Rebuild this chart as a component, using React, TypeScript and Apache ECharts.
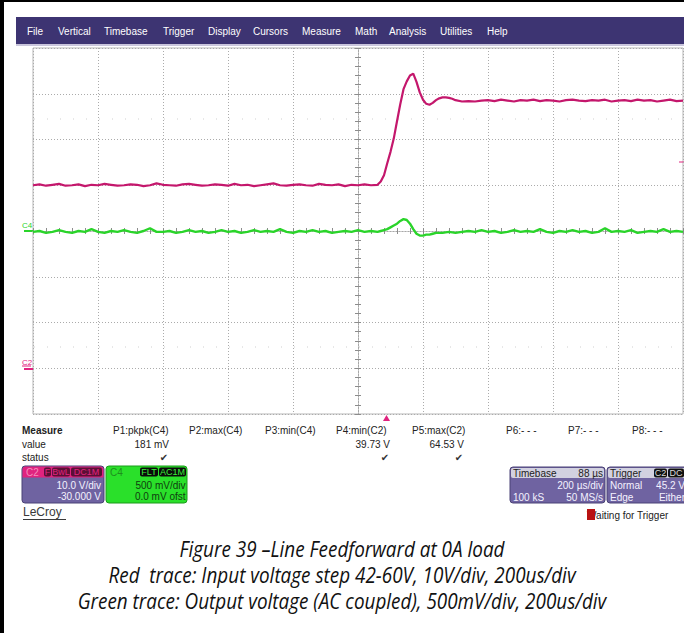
import React, { useEffect, useRef } from "react";
import * as echarts from "echarts";

// Time is in microseconds relative to the screen centre (200 us/div, 10 divisions).
// C2: input voltage, volts (10 V/div, offset -30 V).
const inputTrace: [number, number][] = [
  [-1000, 40.0], [-980, 40.2], [-960, 39.9], [-940, 40.1], [-920, 40.3], [-900, 39.9], [-880, 40.0], [-860, 40.2],
  [-840, 39.8], [-820, 40.1], [-800, 40.0], [-780, 40.3], [-760, 40.1], [-740, 39.9], [-720, 40.0], [-700, 40.2],
  [-680, 40.1], [-660, 39.8], [-640, 40.0], [-620, 40.4], [-600, 40.1], [-580, 40.0], [-560, 39.9], [-540, 40.2],
  [-520, 40.3], [-500, 40.1], [-480, 39.9], [-460, 40.0], [-440, 40.2], [-420, 40.1], [-400, 39.9], [-380, 40.3],
  [-360, 40.0], [-340, 40.1], [-320, 39.8], [-300, 40.0], [-280, 40.2], [-260, 40.4], [-240, 40.0], [-220, 39.9],
  [-200, 40.1], [-180, 40.2], [-160, 40.0], [-140, 39.9], [-120, 40.3], [-100, 40.1], [-80, 40.0], [-60, 40.2],
  [-40, 39.8], [-20, 40.1], [0, 40.0], [20, 40.2], [40, 40.0], [60, 40.1],
  [70, 40.8], [80, 42.2], [90, 44.8], [100, 47.3], [110, 50.2], [120, 54.0], [130, 57.7], [140, 61.0],
  [150, 62.7], [160, 64.0], [170, 64.4], [180, 62.6], [190, 60.3], [200, 58.7], [210, 57.8], [220, 57.6],
  [230, 58.0], [240, 58.6], [250, 59.0], [260, 59.2], [270, 59.2], [280, 59.1], [290, 58.9], [300, 58.6],
  [320, 58.3], [340, 58.4], [360, 58.3], [380, 58.5],
  [400, 58.6], [420, 58.4], [440, 58.7], [460, 58.5], [480, 58.3], [500, 58.6], [520, 58.5], [540, 58.7],
  [560, 58.4], [580, 58.6], [600, 58.5], [620, 58.3], [640, 58.6], [660, 58.7], [680, 58.5], [700, 58.4],
  [720, 58.6], [740, 58.5], [760, 58.7], [780, 58.3], [800, 58.5], [820, 58.6], [840, 58.4], [860, 58.7],
  [880, 58.5], [900, 58.6], [920, 58.3], [940, 58.5], [960, 58.7], [980, 58.4], [1000, 58.5],
];

// C4: output voltage, AC coupled, volts (500 mV/div).
const outputTrace: [number, number][] = [
  [-1000, -0.01], [-980, 0.0], [-960, -0.02], [-940, -0.01], [-920, 0.01], [-900, -0.01], [-880, -0.02], [-860, 0.0],
  [-840, -0.01], [-820, 0.02], [-800, -0.01], [-780, -0.02], [-760, 0.0], [-740, -0.01], [-720, 0.01], [-700, -0.01],
  [-680, -0.02], [-660, 0.0], [-640, 0.03], [-620, -0.01], [-600, -0.01], [-580, 0.0], [-560, -0.02], [-540, -0.01],
  [-520, 0.01], [-500, -0.01], [-480, 0.0], [-460, -0.02], [-440, -0.01], [-420, 0.01], [-400, -0.01], [-380, 0.0],
  [-360, -0.02], [-340, -0.01], [-320, 0.01], [-300, -0.01], [-280, 0.0], [-260, -0.01], [-240, 0.02], [-220, -0.01],
  [-200, -0.02], [-180, 0.0], [-160, -0.01], [-140, 0.01], [-120, -0.01], [-100, 0.0], [-80, -0.02], [-60, -0.01],
  [-40, 0.0], [-20, -0.01], [0, 0.01], [20, -0.01], [40, 0.0], [60, -0.01],
  [70, 0.0], [80, 0.01], [90, 0.02], [100, 0.04], [110, 0.06], [120, 0.08], [130, 0.11], [140, 0.13],
  [150, 0.12], [160, 0.08], [170, 0.02], [180, -0.03], [190, -0.05], [200, -0.05], [210, -0.04], [220, -0.04],
  [230, -0.03], [240, -0.02], [260, -0.02], [280, -0.01], [300, -0.02], [320, -0.01],
  [340, 0.0], [360, -0.01], [380, 0.01], [400, -0.01], [420, 0.0], [440, -0.02], [460, -0.01], [480, 0.01],
  [500, -0.01], [520, 0.0], [540, -0.01], [560, 0.02], [580, -0.01], [600, -0.02], [620, 0.0], [640, -0.01],
  [660, 0.01], [680, -0.01], [700, 0.0], [720, -0.02], [740, -0.01], [760, 0.03], [780, -0.01], [800, 0.0],
  [820, -0.01], [840, 0.01], [860, -0.02], [880, -0.01], [900, 0.0], [920, -0.01], [940, 0.02], [960, -0.01],
  [980, 0.0], [1000, -0.01],
];

const menuItems = ["File", "Vertical", "Timebase", "Trigger", "Display", "Cursors", "Measure", "Math", "Analysis", "Utilities", "Help"];
const measureHeaders = ["P1:pkpk(C4)", "P2:max(C4)", "P3:min(C4)", "P4:min(C2)", "P5:max(C2)", "P6:- - -", "P7:- - -", "P8:- - -"];
const measureValues = ["181 mV", "", "", "39.73 V", "64.53 V", "", "", ""];
const captionLines = [
  "Figure 39 \u2013Line Feedforward at 0A load",
  "Red  trace: Input voltage step 42-60V, 10V/div, 200us/div",
  "Green trace: Output voltage (AC coupled), 500mV/div, 200us/div",
];

const RED = "#c4176c";
const GREEN = "#2ad42a";
const MAGENTA = "#e0237f";
const PANEL = "#6f63a1";
const UI_FONT = '"Liberation Sans", Arial, sans-serif';

function txt(x: number, y: number, text: string, fill: string, size = 10, align = "left", extra: any = {}) {
  return {
    type: "text",
    x,
    y,
    silent: true,
    style: {
      text,
      fill,
      font: `${extra.weight || "normal"} ${size}px ${extra.family || UI_FONT}`,
      textAlign: align,
      textVerticalAlign: "middle",
      verticalAlign: "middle",
    },
    ...(extra.scaleX ? { scaleX: extra.scaleX } : {}),
  };
}

function box(x: number, y: number, w: number, h: number, fill: string, r: any = 0, stroke?: string) {
  return {
    type: "rect",
    silent: true,
    shape: { x, y, width: w, height: h, r },
    style: stroke ? { fill, stroke, lineWidth: 1 } : { fill },
  };
}

function seg(x1: number, y1: number, x2: number, y2: number, stroke: string, lineWidth = 1, lineDash?: number[]) {
  return {
    type: "line",
    silent: true,
    shape: { x1, y1, x2, y2 },
    style: lineDash ? { stroke, lineWidth, lineDash } : { stroke, lineWidth },
  };
}

function tag(x: number, y: number, w: number, label: string, fill: string, color: string) {
  return [box(x, y, w, 9, fill, 2), txt(x + w / 2, y + 4.8, label, color, 9, "center")];
}

const menuX = [27, 58, 104, 163, 208, 253, 302, 355, 389, 440, 487];
const measureX = [113, 189, 265, 336, 412, 506, 568, 632];
const valueRight = [169, 0, 0, 390, 464, 0, 0, 0];

function buildGraphics() {
  const els: any[] = [];
  // frame and menu bar
  els.push(box(0, 0, 684, 2, "#000000"));
  els.push(box(0, 0, 4, 633, "#000000"));
  els.push(box(16, 17, 668, 27, "#3d3472"));
  els.push(box(16, 44, 668, 2, "#c9c5dc"));
  menuItems.forEach((m, i) => els.push(txt(menuX[i], 31, m, "#ffffff", 10)));

  // faint rows of grid dots
  els.push(seg(34, 119, 682, 119, "#cfcfcf", 1, [1, 12]));
  els.push(seg(34, 347, 682, 347, "#cfcfcf", 1, [1, 12]));

  // channel markers
  els.push(txt(22, 225, "C4", GREEN, 8));
  els.push(seg(24, 231, 33, 231, GREEN, 2));
  els.push(txt(22, 362, "C2", MAGENTA, 8));
  els.push(seg(22, 366, 31, 366, MAGENTA, 1));
  els.push(seg(24, 369, 33, 369, MAGENTA, 2));
  els.push(seg(679, 162, 684, 162, MAGENTA, 1));

  // trigger position marker
  els.push({ type: "polygon", silent: true, shape: { points: [[383, 421], [390, 421], [386.5, 415]] }, style: { fill: MAGENTA } });

  // measurement table
  els.push(txt(22, 430, "Measure", "#222222", 10, "left", { weight: "bold" }));
  els.push(txt(22, 444, "value", "#222222", 10));
  els.push(txt(22, 457, "status", "#222222", 10));
  measureHeaders.forEach((h, i) => {
    els.push(txt(measureX[i], 430, h, "#222222", 10));
    if (measureValues[i]) {
      els.push(txt(valueRight[i], 444, measureValues[i], "#222222", 10, "right"));
      els.push(txt(valueRight[i] - 5, 457, "\u2714", "#333333", 10, "center", { family: '"DejaVu Sans"' }));
    }
  });

  // C2 channel box
  els.push(box(22, 466, 82, 37, PANEL, 3, "#4b4276"));
  els.push(box(22.5, 466.5, 81, 11, MAGENTA, [3, 3, 0, 0]));
  els.push(txt(26, 472, "C2", "#f58cbd", 10));
  els.push(...tag(44, 467.5, 7, "F", "#5b1036", MAGENTA));
  els.push(...tag(52, 467.5, 18, "BwL", "#5b1036", MAGENTA));
  els.push(...tag(71, 467.5, 31, "DC1M", "#5b1036", MAGENTA));
  els.push(txt(101, 485, "10.0 V/div", "#f4f2ff", 10, "right"));
  els.push(txt(101, 496, "-30.000 V", "#f4f2ff", 10, "right"));

  // C4 channel box
  els.push(box(106, 466, 81, 37, "#2ae02a", 3, "#1b9b1b"));
  els.push(txt(110, 472, "C4", "#1d8f1d", 10));
  els.push(...tag(140, 467.5, 18, "FLT", "#0b0b0b", "#39f039"));
  els.push(...tag(159, 467.5, 27, "AC1M", "#0b0b0b", "#39f039"));
  els.push(txt(185.5, 485, "500 mV/div", "#0f3d0f", 10, "right"));
  els.push(txt(185.5, 496, "0.0 mV ofst", "#0f3d0f", 10, "right"));

  // brand
  els.push(txt(23, 512, "LeCroy", "#3a3a3a", 12));
  els.push(seg(23, 519.5, 66, 519.5, "#3a3a3a", 1));

  // timebase box
  els.push(box(510, 467, 95, 36, PANEL, 3, "#4b4276"));
  els.push(box(511, 468, 93, 10, "#d2d1e0", 2));
  els.push(txt(513, 473, "Timebase", "#222222", 10));
  els.push(txt(603, 473, "88 \u00b5s", "#222222", 10, "right"));
  els.push(txt(603, 485, "200 \u00b5s/div", "#f4f2ff", 10, "right"));
  els.push(txt(513, 497, "100 kS", "#f4f2ff", 10));
  els.push(txt(603, 497, "50 MS/s", "#f4f2ff", 10, "right"));

  // trigger box
  els.push(box(607, 467, 90, 36, PANEL, 3, "#4b4276"));
  els.push(box(608, 468, 88, 10, "#d2d1e0", 2));
  els.push(txt(610, 473, "Trigger", "#222222", 10));
  els.push(...tag(654, 468.5, 13, "C2", "#111111", "#d9d9d9"));
  els.push(...tag(668, 468.5, 16, "DC", "#111111", "#d9d9d9"));
  els.push(txt(610, 485, "Normal", "#f4f2ff", 10));
  els.push(txt(685, 485, "45.2 V", "#f4f2ff", 10, "right"));
  els.push(txt(610, 497, "Edge", "#f4f2ff", 10));
  els.push(txt(685, 497, "Either", "#f4f2ff", 10, "right"));

  // acquisition status
  els.push(txt(587, 515, "Waiting for Trigger", "#222222", 10));
  els.push(box(587, 509, 8, 11, "#b81212"));

  // figure caption
  captionLines.forEach((line, i) =>
    els.push(txt(342, 549 + i * 26, line, "#111111", 21, "center", { weight: "italic", family: '"Open Sans", sans-serif', scaleX: 0.9 }))
  );
  return els;
}

const timeAxisBase = { type: "value", min: -1000, max: 1000, interval: 200, axisLabel: { show: false }, splitLine: { show: false } };
const gridLineStyle = { color: "#ababab", type: [1, 2], width: 1 };
const centerLine = { show: true, onZero: true, lineStyle: { color: "#a8a8a8", type: [1, 2], width: 1 } };
const tickStyle = { color: "#8c8c8c", width: 1 };

export default function App() {
  const ref = useRef<HTMLDivElement>(null);
  useEffect(() => {
    if (!ref.current) return;
    const chart = echarts.init(ref.current, undefined, { renderer: "svg" });
    chart.setOption({
      animation: false,
      backgroundColor: "#ffffff",
      grid: { left: 33, top: 48, width: 650, height: 366, show: true, borderColor: "#b6b6b6", borderWidth: 1, backgroundColor: "#ffffff" },
      xAxis: [
        { ...timeAxisBase, axisLine: { show: false }, axisTick: { show: false }, splitLine: { show: true, lineStyle: gridLineStyle } },
        {
          ...timeAxisBase,
          axisLine: { ...centerLine, onZeroAxisIndex: 1 },
          axisTick: { show: true, inside: true, length: 3, lineStyle: tickStyle },
          minorTick: { show: true, splitNumber: 5, length: 3, lineStyle: tickStyle },
        },
        {
          ...timeAxisBase,
          axisLine: { ...centerLine, onZeroAxisIndex: 1 },
          axisTick: { show: true, inside: false, length: 3, lineStyle: tickStyle },
          minorTick: { show: true, splitNumber: 5, length: 3, lineStyle: tickStyle },
        },
      ],
      yAxis: [
        { type: "value", min: -10, max: 70, interval: 10, axisLine: { show: false }, axisTick: { show: false }, axisLabel: { show: false }, splitLine: { show: true, lineStyle: gridLineStyle } },
        { type: "value", min: -2, max: 2, interval: 0.5, axisLine: { show: false }, axisTick: { show: false }, axisLabel: { show: false }, splitLine: { show: false } },
        {
          type: "value", min: -2, max: 2, interval: 0.5, axisLabel: { show: false }, splitLine: { show: false },
          axisLine: { ...centerLine, onZeroAxisIndex: 0 },
          axisTick: { show: true, inside: true, length: 3, lineStyle: tickStyle },
          minorTick: { show: true, splitNumber: 5, length: 3, lineStyle: tickStyle },
        },
        {
          type: "value", min: -2, max: 2, interval: 0.5, axisLabel: { show: false }, splitLine: { show: false },
          axisLine: { ...centerLine, onZeroAxisIndex: 0 },
          axisTick: { show: true, inside: false, length: 3, lineStyle: tickStyle },
          minorTick: { show: true, splitNumber: 5, length: 3, lineStyle: tickStyle },
        },
      ],
      series: [
        {
          name: "C2", type: "line", xAxisIndex: 0, yAxisIndex: 0, data: inputTrace, showSymbol: false, symbol: "none",
          lineStyle: { color: RED, width: 2.2 }, z: 5, silent: true,
        },
        {
          name: "C4", type: "line", xAxisIndex: 0, yAxisIndex: 1, data: outputTrace, showSymbol: false, symbol: "none",
          lineStyle: { color: GREEN, width: 2.4 }, z: 5, silent: true,
        },
      ],
      graphic: { elements: buildGraphics() },
    });
    return () => chart.dispose();
  }, []);
  return <div ref={ref} style={{ position: "fixed", left: 0, top: 0, width: 684, height: 633, background: "#ffffff" }} />;
}
